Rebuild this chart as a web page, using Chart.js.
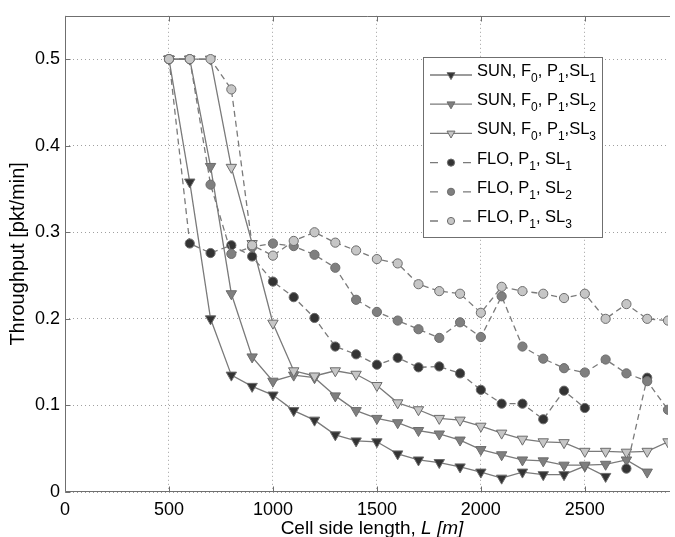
<!DOCTYPE html>
<html>
<head>
<meta charset="utf-8">
<script src="https://cdn.jsdelivr.net/npm/chart.js"></script>
<style>
html,body{margin:0;padding:0;background:#fff;}
canvas{display:block;}
</style>
</head>
<body>
<canvas id="c" width="675" height="537"></canvas>
<script>
// ---- data ----
const xValues = [500, 600, 700, 800, 900, 1000, 1100, 1200, 1300, 1400, 1500, 1600, 1700,
                 1800, 1900, 2000, 2100, 2200, 2300, 2400, 2500, 2600, 2700, 2800, 2900];

const sunSL1 = [0.5, 0.358, 0.200, 0.135, 0.122, 0.112, 0.094, 0.083, 0.066, 0.059, 0.058, 0.044, 0.037,
                0.034, 0.029, 0.023, 0.016, 0.023, 0.020, 0.020, 0.030, 0.018, null, null, null];
const sunSL2 = [0.5, 0.5, 0.376, 0.229, 0.156, 0.128, 0.135, 0.132, 0.111, 0.094, 0.085, 0.080, 0.071,
                0.067, 0.060, 0.049, 0.043, 0.037, 0.036, 0.031, 0.031, 0.032, 0.037, 0.023, null];
const sunSL3 = [0.5, 0.5, 0.5, 0.375, 0.287, 0.195, 0.140, 0.134, 0.140, 0.136, 0.123, 0.103, 0.095,
                0.085, 0.083, 0.076, 0.068, 0.061, 0.058, 0.057, 0.047, 0.047, 0.046, 0.047, 0.058];
const floSL1 = [0.5, 0.287, 0.276, 0.285, 0.272, 0.243, 0.225, 0.201, 0.168, 0.159, 0.147, 0.155, 0.144,
                0.145, 0.137, 0.118, 0.102, 0.102, 0.084, 0.117, 0.097, null, 0.027, 0.132, null];
const floSL2 = [0.5, 0.5, 0.355, 0.275, 0.283, 0.287, 0.284, 0.274, 0.259, 0.222, 0.208, 0.198, 0.188,
                0.178, 0.196, 0.179, 0.226, 0.168, 0.154, 0.143, 0.138, 0.153, 0.137, 0.128, 0.095];
const floSL3 = [0.5, 0.5, 0.5, 0.465, 0.285, 0.273, 0.290, 0.300, 0.288, 0.279, 0.269, 0.264, 0.240,
                0.232, 0.229, 0.207, 0.237, 0.232, 0.229, 0.224, 0.229, 0.200, 0.217, 0.200, 0.198];

const seriesLabels = ['SUN, F_0, P_1,SL_1', 'SUN, F_0, P_1,SL_2', 'SUN, F_0, P_1,SL_3',
                      'FLO, P_1, SL_1', 'FLO, P_1, SL_2', 'FLO, P_1, SL_3'];

const xTickValues = [0, 500, 1000, 1500, 2000, 2500];
const xTickLabels = ['0', '500', '1000', '1500', '2000', '2500'];
const yTickValues = [0, 0.1, 0.2, 0.3, 0.4, 0.5];
const yTickLabels = ['0', '0.1', '0.2', '0.3', '0.4', '0.5'];
const xTitleParts = ['Cell side length, ', 'L [m]'];
const yTitle = 'Throughput [pkt/min]';

// ---- styles ----
const FONT = '"Liberation Sans", Arial, Helvetica, sans-serif';
const DARK = '#333333', MID = '#7f7f7f', LIGHT = '#c6c6c6';
const LINE = '#7a7a7a', EDGE = '#6c6c6c', AXIS = '#6f6f6f', GRID = '#a0a0a0';
const DASH = [6, 4];
const TICK_FONT = 18, TITLE_FONT_X = 19, TITLE_FONT_Y = 20, LEG_FONT = 16.5, SUB_FONT = 12;

function makeDataset(label, values, fillColor, dashed, triangle, order) {
  return {
    label: label,
    data: xValues.map((x, i) => ({ x: x, y: values[i] })),
    borderColor: LINE,
    borderWidth: 1.3,
    borderDash: dashed ? DASH : [],
    pointStyle: triangle ? 'triangle' : 'circle',
    pointRotation: triangle ? 180 : 0,
    pointRadius: triangle ? 6 : 4.6,
    pointBackgroundColor: fillColor,
    pointBorderColor: EDGE,
    pointBorderWidth: 1,
    spanGaps: false,
    tension: 0,
    fill: false,
    order: order
  };
}

const seriesValues = [sunSL1, sunSL2, sunSL3, floSL1, floSL2, floSL3];
const seriesFill = [DARK, MID, LIGHT, DARK, MID, LIGHT];
const seriesDashed = [false, false, false, true, true, true];
const seriesTri = [true, true, true, false, false, false];

const datasets = seriesValues.map((v, k) =>
  makeDataset(seriesLabels[k], v, seriesFill[k], seriesDashed[k], seriesTri[k], 6 - k));

// ---- helpers ----
function drawRich(ctx, str, x, y) {
  let i = 0;
  ctx.textAlign = 'left';
  ctx.textBaseline = 'alphabetic';
  while (i < str.length) {
    if (str[i] === '_') {
      ctx.font = SUB_FONT + 'px ' + FONT;
      ctx.fillText(str[i + 1], x, y + 6);
      x += ctx.measureText(str[i + 1]).width;
      i += 2;
    } else {
      let j = i;
      while (j < str.length && str[j] !== '_') j++;
      const t = str.slice(i, j);
      ctx.font = LEG_FONT + 'px ' + FONT;
      ctx.fillText(t, x, y);
      x += ctx.measureText(t).width;
      i = j;
    }
  }
}

function drawMarker(ctx, tri, x, y, r, fill) {
  ctx.beginPath();
  if (tri) {
    ctx.moveTo(x - r * 0.866, y - r * 0.5);
    ctx.lineTo(x + r * 0.866, y - r * 0.5);
    ctx.lineTo(x, y + r);
    ctx.closePath();
  } else {
    ctx.arc(x, y, r, 0, Math.PI * 2);
  }
  ctx.fillStyle = fill;
  ctx.fill();
  ctx.setLineDash([]);
  ctx.lineWidth = 1;
  ctx.strokeStyle = EDGE;
  ctx.stroke();
}

const decorPlugin = {
  id: 'decor',
  afterDatasetsDraw(chart) {
    const ctx = chart.ctx;
    const a = chart.chartArea;
    const xs = chart.scales.x, ys = chart.scales.y;
    ctx.save();
    ctx.setLineDash([]);
    ctx.strokeStyle = AXIS;
    ctx.lineWidth = 1;
    const L = Math.round(a.left) + 0.5, T = Math.round(a.top) + 0.5, B = Math.round(a.bottom) - 0.5;
    ctx.beginPath();
    ctx.moveTo(a.right + 2, T); ctx.lineTo(L, T); ctx.lineTo(L, B); ctx.lineTo(a.right + 2, B);
    ctx.stroke();
    // inward ticks
    ctx.beginPath();
    xTickValues.forEach(v => {
      const px = Math.round(xs.getPixelForValue(v)) + 0.5;
      ctx.moveTo(px, B); ctx.lineTo(px, B - 5);
      ctx.moveTo(px, T); ctx.lineTo(px, T + 5);
    });
    yTickValues.forEach(v => {
      const py = Math.round(ys.getPixelForValue(v)) + 0.5;
      ctx.moveTo(L, py); ctx.lineTo(L + 5, py);
    });
    ctx.stroke();
    ctx.restore();
  },
  afterDraw(chart) {
    const ctx = chart.ctx;
    const a = chart.chartArea;
    ctx.save();
    // legend
    const bx = 423.5, by = 57.5, bw = 179, bh = 180;
    ctx.fillStyle = '#ffffff';
    ctx.fillRect(bx, by, bw, bh);
    ctx.strokeStyle = AXIS;
    ctx.lineWidth = 1;
    ctx.setLineDash([]);
    ctx.strokeRect(bx, by, bw, bh);
    for (let k = 0; k < seriesLabels.length; k++) {
      const ry = 75 + k * 29.2;
      ctx.strokeStyle = LINE;
      ctx.lineWidth = 1.3;
      ctx.setLineDash(seriesDashed[k] ? [8, 25] : []);
      ctx.beginPath();
      ctx.moveTo(430, ry); ctx.lineTo(472, ry);
      ctx.stroke();
      drawMarker(ctx, seriesTri[k], 451, ry, seriesTri[k] ? 4.6 : 3.6, seriesFill[k]);
      ctx.fillStyle = '#000';
      drawRich(ctx, seriesLabels[k], 477, ry + 1);
    }
    // y title
    ctx.fillStyle = '#000';
    ctx.save();
    ctx.translate(18, (a.top + a.bottom) / 2);
    ctx.rotate(-Math.PI / 2);
    ctx.font = TITLE_FONT_Y + 'px ' + FONT;
    ctx.textAlign = 'center';
    ctx.textBaseline = 'middle';
    ctx.fillText(yTitle, 0, 0);
    ctx.restore();
    // x title (normal + italic part)
    ctx.textBaseline = 'alphabetic';
    ctx.textAlign = 'left';
    ctx.font = TITLE_FONT_X + 'px ' + FONT;
    const w1 = ctx.measureText(xTitleParts[0]).width;
    ctx.font = 'italic ' + TITLE_FONT_X + 'px ' + FONT;
    const w2 = ctx.measureText(xTitleParts[1]).width;
    let tx = 372 - (w1 + w2) / 2;
    const ty = 533.5;
    ctx.font = TITLE_FONT_X + 'px ' + FONT;
    ctx.fillText(xTitleParts[0], tx, ty);
    ctx.font = 'italic ' + TITLE_FONT_X + 'px ' + FONT;
    ctx.fillText(xTitleParts[1], tx + w1, ty);
    ctx.restore();
  }
};

new Chart(document.getElementById('c'), {
  type: 'line',
  data: { datasets: datasets },
  plugins: [decorPlugin],
  options: {
    responsive: false,
    animation: false,
    devicePixelRatio: 1,
    layout: { padding: { top: 12, right: 0, left: 0, bottom: 0 } },
    plugins: { legend: { display: false }, tooltip: { enabled: false }, title: { display: false } },
    scales: {
      x: {
        type: 'linear', min: 0, max: 2900,
        afterBuildTicks: s => { s.ticks = xTickValues.map(v => ({ value: v })); },
        afterFit: s => { s.height = 45; },
        ticks: {
          callback: (v, i) => xTickLabels[i],
          color: '#000', font: { family: FONT, size: TICK_FONT }, padding: 7,
          maxRotation: 0, autoSkip: false
        },
        grid: { color: GRID, lineWidth: 1, drawTicks: false },
        border: { display: false, dash: [1, 3] }
      },
      y: {
        type: 'linear', min: 0, max: 0.55,
        afterBuildTicks: s => { s.ticks = yTickValues.map(v => ({ value: v })); },
        afterFit: s => { s.width = 65; },
        ticks: {
          callback: (v, i) => yTickLabels[i],
          color: '#000', font: { family: FONT, size: TICK_FONT }, padding: 5, autoSkip: false
        },
        grid: { color: GRID, lineWidth: 1, drawTicks: false },
        border: { display: false, dash: [1, 3] }
      }
    }
  }
});
</script>
</body>
</html>
